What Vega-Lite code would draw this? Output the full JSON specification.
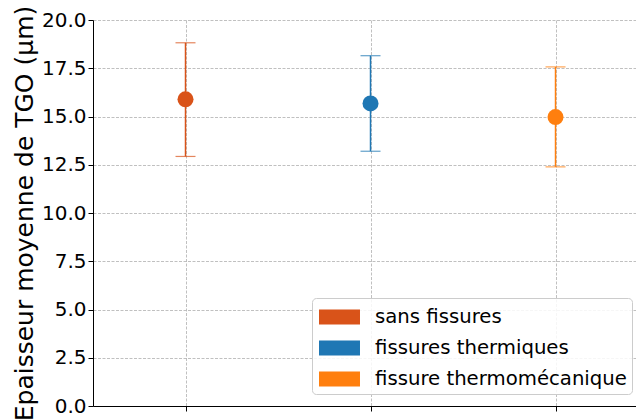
{
  "$schema": "https://vega.github.io/schema/vega-lite/v6.json",
  "width": 543,
  "height": 386,
  "autosize": {"type": "none"},
  "padding": {"left": 93, "top": 20, "right": 0, "bottom": 14},
  "background": "white",
  "config": {
    "view": {"stroke": null},
    "font": "DejaVu Sans",
    "axis": {
      "labelFont": "DejaVu Sans",
      "titleFont": "DejaVu Sans",
      "labelColor": "black",
      "titleColor": "black",
      "domainColor": "black",
      "tickColor": "black",
      "domainWidth": 1,
      "tickWidth": 1,
      "tickSize": 5,
      "gridColor": "#b0b0b0",
      "gridDash": [3, 1.5],
      "gridWidth": 0.8
    },
    "legend": {
      "labelFont": "DejaVu Sans"
    }
  },
  "data": {
    "values": [
      {"pos": 0, "groupe": "sans fissures", "moyenne": 15.89, "bas": 12.93, "haut": 18.82},
      {"pos": 1, "groupe": "fissures thermiques", "moyenne": 15.68, "bas": 13.2, "haut": 18.15},
      {"pos": 2, "groupe": "fissure thermomécanique", "moyenne": 14.97, "bas": 12.39, "haut": 17.57}
    ]
  },
  "encoding": {
    "x": {
      "field": "pos",
      "type": "quantitative",
      "scale": {"domain": [-0.5, 2.435], "nice": false, "zero": false},
      "axis": {"values": [0, 1, 2], "labels": false, "title": null, "grid": true, "domain": true}
    },
    "color": {
      "field": "groupe",
      "type": "nominal",
      "scale": {
        "domain": ["sans fissures", "fissures thermiques", "fissure thermomécanique"],
        "range": ["#d95319", "#1f77b4", "#ff7f0e"]
      },
      "legend": {
        "title": null,
        "orient": "none",
        "legendX": 219,
        "legendY": 278,
        "symbolType": "M-1.464,-0.536H1.464V0.536H-1.464Z",
        "symbolSize": 784,
        "symbolStrokeWidth": 0,
        "symbolOpacity": 1,
        "symbolOffset": 8.5,
        "labelOffset": 21.5,
        "labelFontSize": 19.7,
        "labelColor": "black",
        "labelLimit": 400,
        "rowPadding": 7,
        "padding": 5,
        "fillColor": "rgba(255,255,255,0.85)",
        "strokeColor": "#cccccc",
        "cornerRadius": 4
      }
    }
  },
  "layer": [
    {
      "mark": {"type": "rule", "strokeWidth": 1.5},
      "encoding": {
        "y": {
          "field": "bas",
          "type": "quantitative",
          "scale": {"domain": [0, 20], "nice": false},
          "axis": {
            "values": [0, 2.5, 5, 7.5, 10, 12.5, 15, 17.5, 20],
            "format": ".1f",
            "labelFontSize": 20,
            "labelPadding": 2,
            "title": "Epaisseur moyenne de TGO (µm)",
            "titleFontSize": 25,
            "titleFontWeight": "normal",
            "titlePadding": 4,
            "grid": true
          }
        },
        "y2": {"field": "haut"}
      }
    },
    {
      "mark": {"type": "tick", "orient": "horizontal", "size": 20, "thickness": 1.2},
      "encoding": {"y": {"field": "bas", "type": "quantitative"}}
    },
    {
      "mark": {"type": "tick", "orient": "horizontal", "size": 20, "thickness": 1.2},
      "encoding": {"y": {"field": "haut", "type": "quantitative"}}
    },
    {
      "mark": {"type": "point", "filled": true, "opacity": 1, "size": 256, "shape": "circle"},
      "encoding": {
        "y": {"field": "moyenne", "type": "quantitative"}
      }
    },
    {
      "data": {"values": [{"haut_cadre": 20}]},
      "mark": {"type": "rule", "color": "black", "strokeWidth": 1},
      "encoding": {
        "x": {"datum": -0.5, "type": "quantitative"},
        "x2": {"datum": 2.435},
        "y": {"field": "haut_cadre", "type": "quantitative"},
        "color": {"value": "black"}
      }
    }
  ]
}
